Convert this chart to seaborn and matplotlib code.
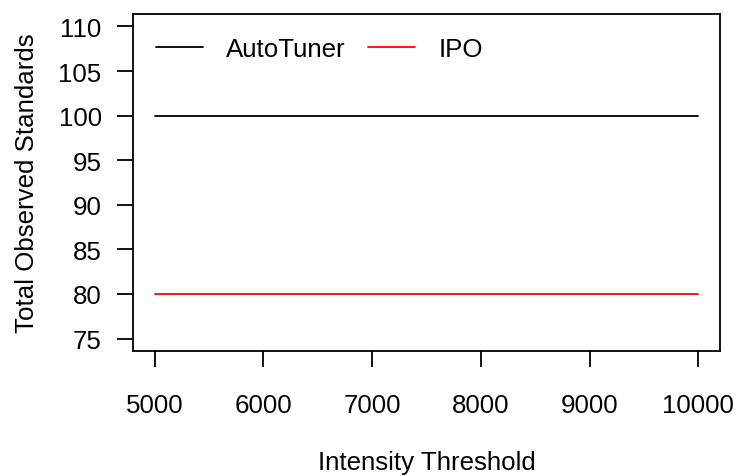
import matplotlib
matplotlib.use("Agg")
import matplotlib.pyplot as plt
import seaborn as sns
import pandas as pd

# Observed standards at each intensity threshold
thresholds = [5000, 6000, 7000, 8000, 9000, 10000]
autotuner = [100, 100, 100, 100, 100, 100]
ipo = [80, 80, 80, 80, 80, 80]
methods = ["AutoTuner", "IPO"]
colors = {"AutoTuner": "black", "IPO": "red"}
x_ticks = [5000, 6000, 7000, 8000, 9000, 10000]
y_ticks = [75, 80, 85, 90, 95, 100, 105, 110]

FS = 18.6

df = pd.DataFrame({
    "Intensity Threshold": thresholds * 2,
    "Total Observed Standards": autotuner + ipo,
    "Method": [methods[0]] * len(thresholds) + [methods[1]] * len(thresholds),
})

sns.set_style("white")
plt.rcParams["font.family"] = ["Liberation Sans", "DejaVu Sans"]
plt.rcParams["text.color"] = "black"
plt.rcParams["axes.labelcolor"] = "black"

fig = plt.figure(figsize=(7.38, 4.77), dpi=100)
ax = fig.add_axes([133 / 738, 1 - 352 / 477, (720 - 133) / 738, (352 - 15) / 477])

sns.lineplot(data=df, x="Intensity Threshold", y="Total Observed Standards",
             hue="Method", palette=colors, linewidth=1.3, ax=ax, legend=True)

ax.set_xlim(4800, 10200)
ax.set_ylim(73.6, 111.4)
ax.set_xticks(x_ticks)
ax.set_yticks(y_ticks)
ax.tick_params(axis="both", direction="out", length=11.5, width=1.3,
               labelsize=FS, color="black", labelcolor="black",
               bottom=True, left=True)
ax.tick_params(axis="y", pad=11)
ax.tick_params(axis="x", pad=18.5)
for s in ax.spines.values():
    s.set_color("black")
    s.set_linewidth(1.3)

ax.set_xlabel("Intensity Threshold", fontsize=FS, labelpad=24)
ax.set_ylabel("Total Observed Standards", fontsize=FS, labelpad=14)

handles, labels = ax.get_legend_handles_labels()
ax.legend(handles, labels, ncol=2, frameon=False, loc="upper left",
          bbox_to_anchor=(0.03, 0.948), fontsize=FS, handlelength=1.82,
          handletextpad=0.9, columnspacing=0.88, borderaxespad=0, borderpad=0.2)

fig.savefig("out.png", dpi=100, facecolor="white")
